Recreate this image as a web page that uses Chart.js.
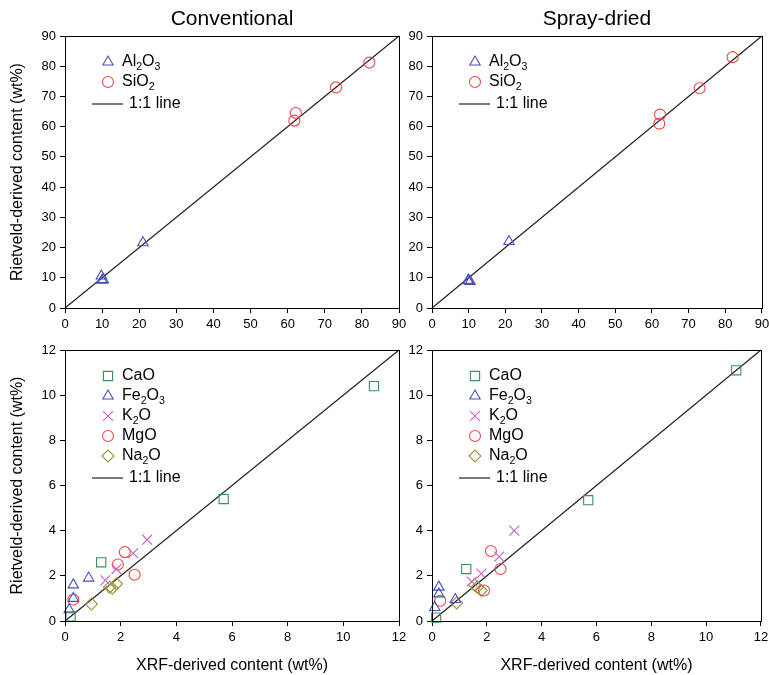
<!DOCTYPE html>
<html>
<head>
<meta charset="utf-8">
<script src="https://cdn.jsdelivr.net/npm/chart.js@4/dist/chart.umd.min.js"></script>
<style>
  html, body { margin: 0; padding: 0; background: #fff; }
  #wrap { position: relative; width: 769px; height: 675px; }
  #wrap canvas { position: absolute; left: 0; top: 0; }
</style>
</head>
<body>
<div id="wrap">
  <canvas id="tl" width="769" height="675"></canvas>
  <canvas id="tr" width="769" height="675"></canvas>
  <canvas id="bl" width="769" height="675"></canvas>
  <canvas id="br" width="769" height="675"></canvas>
</div>
<script>
// ---- tick label values ----
const MAJOR_TICKS = [0, 10, 20, 30, 40, 50, 60, 70, 80, 90];
const MINOR_TICKS = [0, 2, 4, 6, 8, 10, 12];

// ---- panel titles / axis titles ----
const PANEL_TITLES = ['Conventional', 'Spray-dried'];
const X_TITLE = 'XRF-derived content (wt%)';
const Y_TITLE = 'Rietveld-derived content (wt%)';

// ---- series labels (underscore marks a subscript digit group) ----
const LABEL_AL2O3 = 'Al_2O_3';
const LABEL_SIO2 = 'SiO_2';
const LABEL_CAO = 'CaO';
const LABEL_FE2O3 = 'Fe_2O_3';
const LABEL_K2O = 'K_2O';
const LABEL_MGO = 'MgO';
const LABEL_NA2O = 'Na_2O';
const LABEL_LINE = '1:1 line';

// ---- major oxides: [XRF, Rietveld] in wt% ----
const conv_Al2O3 = [[9.8, 10.6], [10.3, 9.4], [10.0, 9.2], [21.0, 21.6]];
const conv_SiO2  = [[61.8, 62.0], [62.2, 64.5], [73.0, 73.0], [82.0, 81.2]];
const spray_Al2O3 = [[10.0, 9.2], [10.4, 8.8], [9.8, 9.0], [21.0, 22.0]];
const spray_SiO2  = [[62.0, 61.0], [62.2, 64.0], [73.0, 72.7], [82.0, 83.0]];

// ---- minor oxides: [XRF, Rietveld] in wt% ----
const conv_CaO   = [[0.2, 0.2], [1.3, 2.6], [5.7, 5.4], [11.1, 10.4]];
const conv_Fe2O3 = [[0.15, 0.5], [0.3, 1.0], [0.3, 1.6], [0.85, 1.9]];
const conv_K2O   = [[1.45, 1.8], [1.85, 2.3], [2.45, 3.0], [2.95, 3.6]];
const conv_MgO   = [[0.3, 0.95], [1.9, 2.5], [2.15, 3.05], [2.5, 2.05]];
const conv_Na2O  = [[0.95, 0.75], [1.6, 1.5], [1.7, 1.45], [1.85, 1.65]];

const spray_CaO   = [[0.15, 0.15], [1.25, 2.3], [5.7, 5.35], [11.1, 11.1]];
const spray_Fe2O3 = [[0.1, 0.6], [0.25, 1.2], [0.25, 1.5], [0.85, 0.95]];
const spray_K2O   = [[1.45, 1.75], [1.8, 2.1], [2.45, 2.85], [3.0, 4.0]];
const spray_MgO   = [[0.3, 0.9], [1.9, 1.35], [2.15, 3.1], [2.5, 2.3]];
const spray_Na2O  = [[0.9, 0.8], [1.55, 1.6], [1.65, 1.5], [1.8, 1.35]];

// ---- styling ----
const FONT = '"Liberation Sans", Arial, sans-serif';
const STYLE = {
  Al2O3: { pointStyle: 'triangle', color: '#4a4fc0', radius: 6 },
  Fe2O3: { pointStyle: 'triangle', color: '#4a4fc0', radius: 6 },
  SiO2:  { pointStyle: 'circle',   color: '#f0464a', radius: 5.5 },
  MgO:   { pointStyle: 'circle',   color: '#f0464a', radius: 5.5 },
  CaO:   { pointStyle: 'rect',     color: '#37935a', radius: 6.5 },
  K2O:   { pointStyle: 'crossRot', color: '#c264c4', radius: 7 },
  Na2O:  { pointStyle: 'rectRot',  color: '#999636', radius: 6 }
};

const W = 769, H = 675;

function toXY(pairs) { return pairs.map(p => ({ x: p[0], y: p[1] })); }

function scatterSet(label, key, pairs) {
  const s = STYLE[key];
  return {
    type: 'scatter', label, data: toXY(pairs),
    pointStyle: s.pointStyle, pointRadius: s.radius,
    pointBorderColor: s.color, pointBackgroundColor: 'rgba(0,0,0,0)',
    pointBorderWidth: 1.1, clip: false, _style: s
  };
}

function identitySet(max) {
  return {
    type: 'line', label: LABEL_LINE, data: [{ x: 0, y: 0 }, { x: max, y: max }],
    borderColor: '#222', borderWidth: 1.2, pointRadius: 0, fill: false, clip: false
  };
}

// text with subscript groups written as "_digits"
function drawRich(ctx, text, x, y, size) {
  const parts = text.split(/(_\d+)/).filter(Boolean);
  let cx = x;
  ctx.textAlign = 'left';
  ctx.textBaseline = 'middle';
  for (const p of parts) {
    if (p[0] === '_') {
      const t = p.slice(1);
      ctx.font = (size * 0.66).toFixed(1) + 'px ' + FONT;
      ctx.fillText(t, cx, y + size * 0.3);
      cx += ctx.measureText(t).width;
    } else {
      ctx.font = size + 'px ' + FONT;
      ctx.fillText(p, cx, y);
      cx += ctx.measureText(p).width;
    }
  }
}

// frame, panel title and legend box
const decorPlugin = {
  id: 'decor',
  afterDraw(chart, args, opts) {
    const { ctx, chartArea: a } = chart;
    ctx.save();
    ctx.strokeStyle = '#000';
    ctx.lineWidth = 1;
    ctx.strokeRect(Math.round(a.left) + 0.5, Math.round(a.top) + 0.5,
                   Math.round(a.right - a.left), Math.round(a.bottom - a.top));
    if (opts.title) {
      ctx.fillStyle = '#000';
      ctx.font = '21px ' + FONT;
      ctx.textAlign = 'center';
      ctx.textBaseline = 'middle';
      ctx.fillText(opts.title, (a.left + a.right) / 2, a.top - 17);
    }
    // legend
    const mx = a.left + 43, tx = a.left + 57;
    let y = a.top + 26;
    chart.data.datasets.forEach(ds => {
      if (ds.type === 'scatter') {
        const s = ds._style;
        ctx.strokeStyle = s.color;
        ctx.fillStyle = 'rgba(0,0,0,0)';
        ctx.lineWidth = 1.1;
        Chart.helpers.drawPoint(ctx, { pointStyle: s.pointStyle, radius: s.radius, borderWidth: 1.1, rotation: 0 }, mx, y);
        ctx.fillStyle = '#000';
        drawRich(ctx, ds.label, tx, y, 16);
        y += 20;
      }
    });
    const lineDs = chart.data.datasets.find(d => d.type === 'line');
    if (lineDs) {
      y += 2;
      ctx.strokeStyle = '#222';
      ctx.lineWidth = 1.2;
      ctx.beginPath();
      ctx.moveTo(a.left + 27, y);
      ctx.lineTo(a.left + 58, y);
      ctx.stroke();
      ctx.fillStyle = '#000';
      drawRich(ctx, lineDs.label, a.left + 64, y, 16);
    }
    ctx.restore();
  }
};

function makePanel(id, box, cfg) {
  const yW = cfg.yTitle ? 57 : 40;
  const xH = cfg.xTitle ? 54 : 30;
  const tickFont = { family: FONT, size: 13 };
  const axisCommon = (ticks) => ({
    type: 'linear', min: ticks[0], max: ticks[ticks.length - 1],
    afterBuildTicks: s => { s.ticks = ticks.map(v => ({ value: v })); },
    ticks: { font: tickFont, color: '#000', padding: 4, autoSkip: false, maxRotation: 0 },
    grid: { drawOnChartArea: false, drawTicks: true, tickLength: 5, color: '#000', tickColor: '#000' },
    border: { display: true, color: '#000', width: 1 }
  });
  const x = axisCommon(cfg.ticks);
  x.title = { display: !!cfg.xTitle, text: X_TITLE, color: '#000', font: { family: FONT, size: 16 }, padding: 0 };
  x.afterFit = s => { s.height = xH; s.paddingLeft = 0; s.paddingRight = 0; };
  const y = axisCommon(cfg.ticks);
  y.title = { display: !!cfg.yTitle, text: Y_TITLE, color: '#000', font: { family: FONT, size: 16 }, padding: 0 };
  y.afterFit = s => { s.width = yW; s.paddingTop = 0; s.paddingBottom = 0; };

  return new Chart(document.getElementById(id), {
    data: { datasets: cfg.datasets },
    options: {
      responsive: false, animation: false, devicePixelRatio: 1,
      events: [],
      layout: { padding: { left: box.l - yW, right: W - box.r, top: box.t, bottom: H - box.b - xH } },
      plugins: { legend: { display: false }, tooltip: { enabled: false }, decor: { title: cfg.title } },
      scales: { x, y }
    },
    plugins: [decorPlugin]
  });
}

const LEFT = { l: 65, r: 399 }, RIGHT = { l: 432, r: 765 };
const TOP = { t: 36, b: 308 }, BOTTOM = { t: 350, b: 621 };
const bigMax = MAJOR_TICKS[MAJOR_TICKS.length - 1];
const smallMax = MINOR_TICKS[MINOR_TICKS.length - 1];

makePanel('tl', { ...LEFT, ...TOP }, {
  title: PANEL_TITLES[0], ticks: MAJOR_TICKS, yTitle: true, xTitle: false,
  datasets: [scatterSet(LABEL_AL2O3, 'Al2O3', conv_Al2O3), scatterSet(LABEL_SIO2, 'SiO2', conv_SiO2), identitySet(bigMax)]
});
makePanel('tr', { ...RIGHT, ...TOP }, {
  title: PANEL_TITLES[1], ticks: MAJOR_TICKS, yTitle: false, xTitle: false,
  datasets: [scatterSet(LABEL_AL2O3, 'Al2O3', spray_Al2O3), scatterSet(LABEL_SIO2, 'SiO2', spray_SiO2), identitySet(bigMax)]
});
makePanel('bl', { ...LEFT, ...BOTTOM }, {
  title: null, ticks: MINOR_TICKS, yTitle: true, xTitle: true,
  datasets: [
    scatterSet(LABEL_CAO, 'CaO', conv_CaO), scatterSet(LABEL_FE2O3, 'Fe2O3', conv_Fe2O3),
    scatterSet(LABEL_K2O, 'K2O', conv_K2O), scatterSet(LABEL_MGO, 'MgO', conv_MgO),
    scatterSet(LABEL_NA2O, 'Na2O', conv_Na2O), identitySet(smallMax)
  ]
});
makePanel('br', { ...RIGHT, ...BOTTOM }, {
  title: null, ticks: MINOR_TICKS, yTitle: false, xTitle: true,
  datasets: [
    scatterSet(LABEL_CAO, 'CaO', spray_CaO), scatterSet(LABEL_FE2O3, 'Fe2O3', spray_Fe2O3),
    scatterSet(LABEL_K2O, 'K2O', spray_K2O), scatterSet(LABEL_MGO, 'MgO', spray_MgO),
    scatterSet(LABEL_NA2O, 'Na2O', spray_Na2O), identitySet(smallMax)
  ]
});
</script>
</body>
</html>
